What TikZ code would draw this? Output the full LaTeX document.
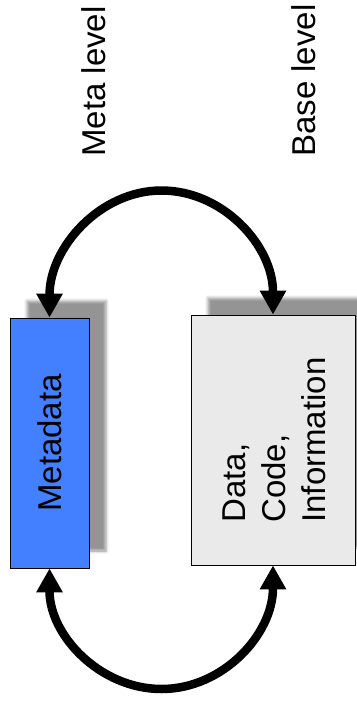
\documentclass[tikz,border=0pt]{standalone}
\usepackage{fontspec}
\setmainfont{Liberation Sans}
\usetikzlibrary{arrows.meta,shadows.blur}
\definecolor{metablue}{RGB}{66,128,255}
\definecolor{datagray}{RGB}{234,234,234}

\begin{document}
\begin{tikzpicture}[x=1pt,y=-1pt,font=\fontsize{33}{40}\selectfont,
    box/.style={draw=black,line width=0.8pt,inner sep=0pt,
      blur shadow={shadow xshift=17pt,shadow yshift=17pt,shadow blur radius=3pt,shadow opacity=42}},
    link/.style={line width=8.5pt,{Triangle[length=24pt,width=25pt]}-{Triangle[length=24pt,width=25pt]}},
    level/.style={rotate=90,anchor=base west,inner sep=0pt}]
          \useasboundingbox (0,0) rectangle (356,709);
          \node[box,fill=metablue,minimum width=79pt,minimum height=250pt] (meta) at (49.5,443) {\rotatebox{90}{Metadata}};
          \node[box,fill=datagray,minimum width=164pt,minimum height=250pt] (data) at (273,440)
            {\hspace{8pt}\rotatebox{90}{\begin{tabular}{@{}l@{}}Data,\\Code,\\Information\end{tabular}}};
          \node[level] (metalevel) at (105,157) {Meta level};
          \node[level] (baselevel) at (315,157) {Base level};
          \coordinate (top) at (161.5,190.5);
          \coordinate (bottom) at (161.5,689);
          \draw[link] (meta.north) .. controls +(0,-70) and +(-61.5,0) .. (top)
            .. controls +(61.5,0) and +(0,-69) .. (data.north);
          \draw[link] (meta.south) .. controls +(0,67) and +(-61.5,0) .. (bottom)
            .. controls +(61.5,0) and +(0,69) .. (data.south);
        \end{tikzpicture}
\end{document}
